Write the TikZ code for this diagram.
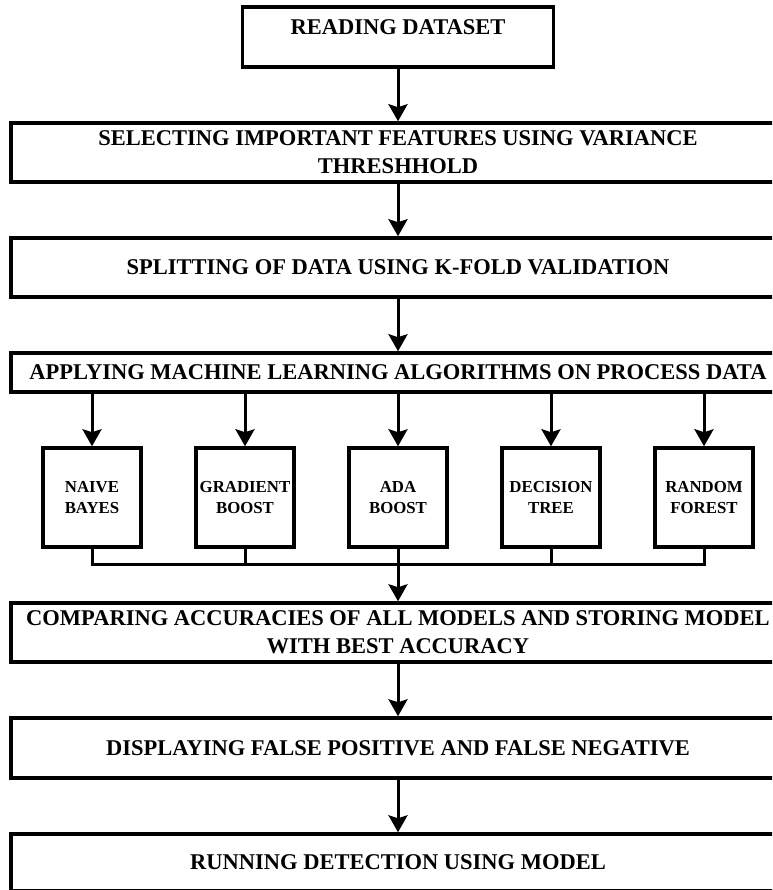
\documentclass[tikz,border=0pt]{standalone}
\usepackage{fontspec}
\setmainfont{Liberation Serif}
\usetikzlibrary{arrows.meta,positioning}

\begin{document}
\begin{tikzpicture}[
  x=1pt, y=-1pt,
  node distance=52.5pt,
  font=\bfseries\fontsize{22.5}{28}\selectfont,
  box/.style={draw, line width=3.5pt, align=center, inner sep=0pt, minimum height=59pt},
  wide/.style={box, minimum width=774pt},
  algo/.style={box, font=\bfseries\fontsize{16.8}{20.5}\selectfont, minimum width=98pt, minimum height=99pt},
  arr/.style={-{Stealth[length=17pt, width=19pt, inset=3pt]}, line width=3pt},
  line/.style={line width=3pt}
]
\path[use as bounding box, clip] (0,0) rectangle (772,890);
\node[box, minimum width=311pt, minimum height=60pt, text depth=19pt] (read) at (398,37) {READING DATASET};
\node[wide, below=of read] (select) {SELECTING IMPORTANT FEATURES USING VARIANCE\\THRESHHOLD};
\node[wide, below=of select] (split) {SPLITTING OF DATA USING K-FOLD VALIDATION};
\node[wide, below=of split, minimum height=39pt] (apply) {APPLYING MACHINE LEARNING ALGORITHMS ON PROCESS DATA};
\node[algo, below=of apply] (ab) {ADA\\BOOST};
\node[algo, left=51.5pt of ab] (gb) {GRADIENT\\BOOST};
\node[algo, left=51.5pt of gb] (nb) {NAIVE\\BAYES};
\node[algo, right=51.5pt of ab] (dt) {DECISION\\TREE};
\node[algo, right=51.5pt of dt] (rf) {RANDOM\\FOREST};
\coordinate[below=16pt of ab] (bus);
\node[wide, below=of ab] (compare) {COMPARING ACCURACIES OF ALL MODELS AND STORING MODEL\\WITH BEST ACCURACY};
\node[wide, below=of compare, minimum height=60pt] (display) {DISPLAYING FALSE POSITIVE AND FALSE NEGATIVE};
\node[wide, below=of display, minimum height=57pt] (run) {RUNNING DETECTION USING MODEL};
\draw[arr] (read) -- (select);
\draw[arr] (select) -- (split);
\draw[arr] (split) -- (apply);
\foreach \n in {nb,gb,ab,dt,rf}
  \draw[arr] (apply.south -| \n) -- (\n);
\draw[line] (nb) |- (bus) -| (rf);
\draw[line] (gb) -- (gb |- bus);
\draw[line] (dt) -- (dt |- bus);
\draw[arr] (ab) -- (compare);
\draw[arr] (compare) -- (display);
\draw[arr] (display) -- (run);
\end{tikzpicture}
\end{document}
